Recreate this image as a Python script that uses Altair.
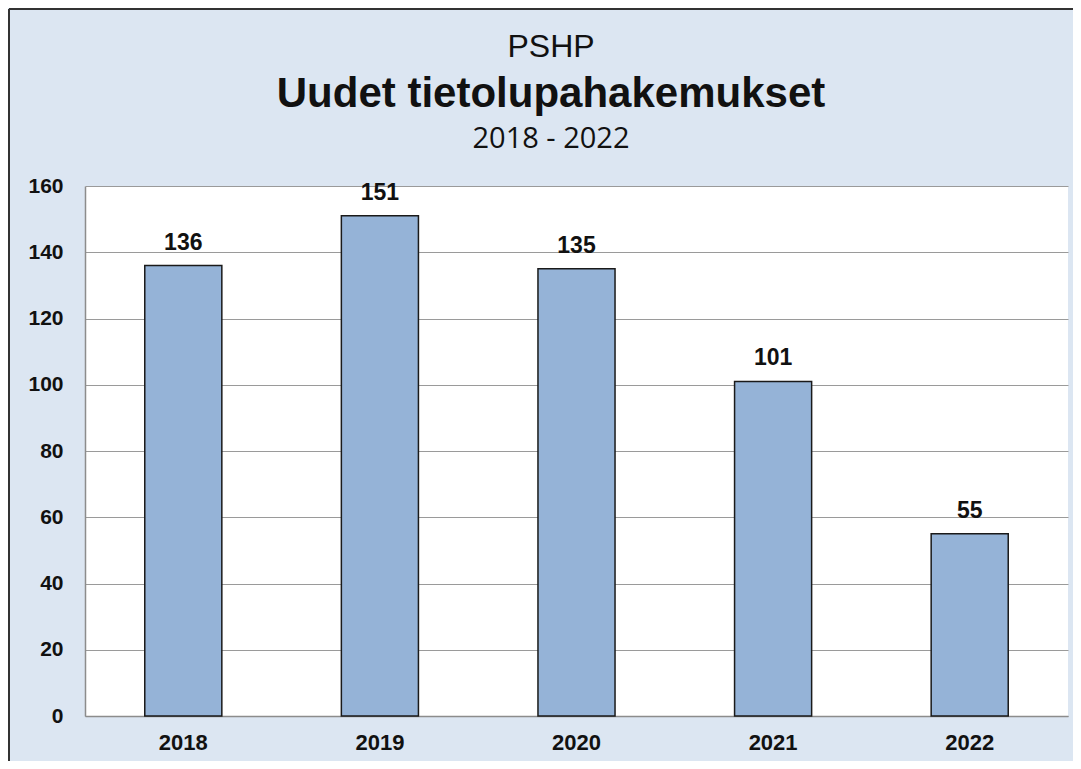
import altair as alt
import pandas as pd

years = ["2018", "2019", "2020", "2021", "2022"]
counts = [136, 151, 135, 101, 55]
title_top = "PSHP"
title_main = "Uudet tietolupahakemukset"
title_sub = "2018 - 2022"
y_ticks = [0, 20, 40, 60, 80, 100, 120, 140, 160]

df = pd.DataFrame({"year": years, "count": counts})

W, H = 983, 530
CX = 466

x_enc = alt.X("year:N", sort=years, title=None,
              scale=alt.Scale(paddingInner=0.608, paddingOuter=0.304),
              axis=alt.Axis(labelAngle=0, labelFontSize=22, labelFontWeight="bold",
                            labelFont="Liberation Sans", labelColor="#111",
                            labelPadding=16, ticks=False, domainColor="#8c8c8c",
                            domainWidth=1.5, grid=False))
y_enc = alt.Y("count:Q", title=None,
              scale=alt.Scale(domain=[0, 160], nice=False),
              axis=alt.Axis(values=y_ticks, labelFontSize=21, labelFontWeight="bold",
                            labelFont="Liberation Sans", labelColor="#111",
                            labelPadding=22, ticks=False, domainColor="#8c8c8c",
                            domainWidth=1.5, gridColor="#9a9a9a", gridWidth=1.2))

base = alt.Chart(df)
bars = base.mark_bar(color="#95b3d7", stroke="#1a1a1a", strokeWidth=1.5).encode(x=x_enc, y=y_enc)
labels = base.mark_text(fontSize=23, fontWeight="bold", font="Liberation Sans",
                        baseline="alphabetic", dy=-16, color="#111").encode(
    x=alt.X("year:N", sort=years), y="count:Q", text="count:Q")

def title_line(txt, size, weight, font, yv):
    return alt.Chart(pd.DataFrame({"t": [txt]})).mark_text(
        fontSize=size, fontWeight=weight, font=font, align="center",
        baseline="alphabetic", color="#111").encode(
        text="t:N", x=alt.value(CX), y=alt.value(yv))

t1 = title_line(title_top, 32, "normal", "Liberation Sans", 57 - 186)
t2 = title_line(title_main, 42, "bold", "Liberation Sans", 107 - 186)
t3 = title_line(title_sub, 29, "normal", "Open Sans", 148 - 186)

frame_df = pd.DataFrame({"k": [0]})
frame_left = alt.Chart(frame_df).mark_rule(color="#333", strokeWidth=2, clip=False).encode(
    x=alt.value(-76), y=alt.value(-177), y2=alt.value(580))
frame_top = alt.Chart(frame_df).mark_rule(color="#333", strokeWidth=2, clip=False).encode(
    x=alt.value(-76), x2=alt.value(1000), y=alt.value(-177))

chart = alt.layer(bars, labels, t1, t2, t3, frame_left, frame_top).properties(
    width=W, height=H,
    autosize=alt.AutoSizeParams(type="none"),
    padding={"left": 77, "top": 178, "right": 5, "bottom": 45},
    background="#dce6f2",
).configure_view(fill="white", strokeWidth=0)

chart.save("out.html", embed_options={"renderer": "svg", "actions": False})
